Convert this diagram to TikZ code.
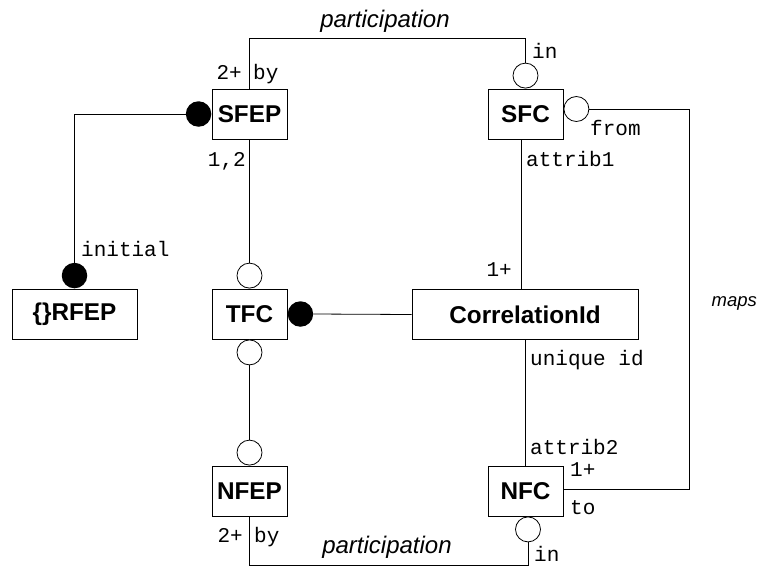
\documentclass[tikz,border=0pt]{standalone}
\usepackage{fontspec}
\setmainfont{Liberation Sans}
\newfontfamily\monofont{Liberation Mono}
\begin{document}
\begin{tikzpicture}[x=1pt,y=-1pt,
  entity/.style={draw, line width=1pt, minimum height=50pt, inner sep=0pt,
    font=\fontsize{24.3}{26}\selectfont\bfseries},
  opt/.style={draw, circle, fill=white, minimum size=25pt, inner sep=0pt, line width=0.8pt},
  mand/.style={circle, fill=black, minimum size=25.5pt, inner sep=0pt},
  role/.style={font=\monofont\fontsize{21}{22}\selectfont, inner sep=0pt},
  relname/.style={font=\fontsize{24}{26}\selectfont\itshape, inner sep=0pt},
  link/.style={line width=0.8pt}]
\useasboundingbox (0,0) rectangle (758,566);

% entity boxes
\node[entity, minimum width=75pt]  (sfep) at (249.5,114) {SFEP};
\node[entity, minimum width=75pt]  (sfc)  at (525.5,114) {SFC};
\node[entity, minimum width=125pt] (rfep) at (74.5,314)  {\{\}RFEP};
\node[entity, minimum width=75pt]  (tfc)  at (249.5,314) {TFC};
\node[entity, minimum width=226pt] (corr) at (525,314.5) {CorrelationId};
\node[entity, minimum width=75pt]  (nfep) at (249.5,491) {NFEP};
\node[entity, minimum width=75pt]  (nfc)  at (525.5,491) {NFC};

% role markers
\node[mand, anchor=east]  (sfepL) at (sfep.west) {};
\node[opt, anchor=south]  (sfcT)  at (sfc.north) {};
\node[opt, anchor=west]   (sfcR)  at ([yshift=5pt]sfc.east) {};
\node[mand, anchor=south] (rfepT) at (rfep.north) {};
\node[opt, anchor=south]  (tfcT)  at (tfc.north) {};
\node[mand, anchor=west]  (tfcR)  at (tfc.east) {};
\node[opt, anchor=north]  (tfcB)  at (tfc.south) {};
\node[opt, anchor=south]  (nfepT) at (nfep.north) {};
\node[opt, anchor=north]  (nfcB)  at ([xshift=2.5pt]nfc.south) {};

% connectors
\draw[link] (sfep.north) -- ++(0,-50) -| (sfcT.north);
\draw[link] (sfepL.west) -| (rfepT.north);
\draw[link] (sfep.south) -- (tfcT.north);
\draw[link] ([xshift=-4.5pt]sfc.south) -- ([xshift=-4.5pt]sfc.south |- corr.north);
\draw[link] (tfcR.east) -- (corr.west);
\draw[link] (tfcB.south) -- (nfepT.north);
\draw[link] (corr.south -| nfc.north) -- (nfc.north);
\draw[link] (sfcR.east) -- ++(100,0) |- ([yshift=2pt]nfc.east);
\draw[link] (nfcB.south) -- ++(0,23) -| (nfep.south);

% relationship names
\node[relname, anchor=base] (ptop) at (385,27)  {participation};
\node[relname, anchor=base] (pbot) at (387,553) {participation};
\node[relname, anchor=base west, font=\fontsize{18.5}{20}\selectfont\itshape] (maps) at (711.5,306.5) {maps};

% role labels
\node[role, anchor=base east] (l1) at (242,79)    {2+};
\node[role, anchor=base west] (l2) at (253,79)    {by};
\node[role, anchor=base west] (l3) at (532,58)    {in};
\node[role, anchor=base east] (l4) at (246,166)   {1,2};
\node[role, anchor=base west] (l5) at (526,166)   {attrib1};
\node[role, anchor=base west] (l6) at (590,135.5) {from};
\node[role, anchor=base west] (l7) at (81,256.5)  {initial};
\node[role, anchor=base east] (l8) at (512,276.5) {1+};
\node[role, anchor=base west] (l9) at (530,365)   {unique id};
\node[role, anchor=base west] (l10) at (530,454)  {attrib2};
\node[role, anchor=base west] (l11) at (570,476.5) {1+};
\node[role, anchor=base west] (l12) at (570,514)  {to};
\node[role, anchor=base east] (l13) at (243,542)  {2+};
\node[role, anchor=base west] (l14) at (254,542)  {by};
\node[role, anchor=base west] (l15) at (534,561.5) {in};
\end{tikzpicture}
\end{document}
